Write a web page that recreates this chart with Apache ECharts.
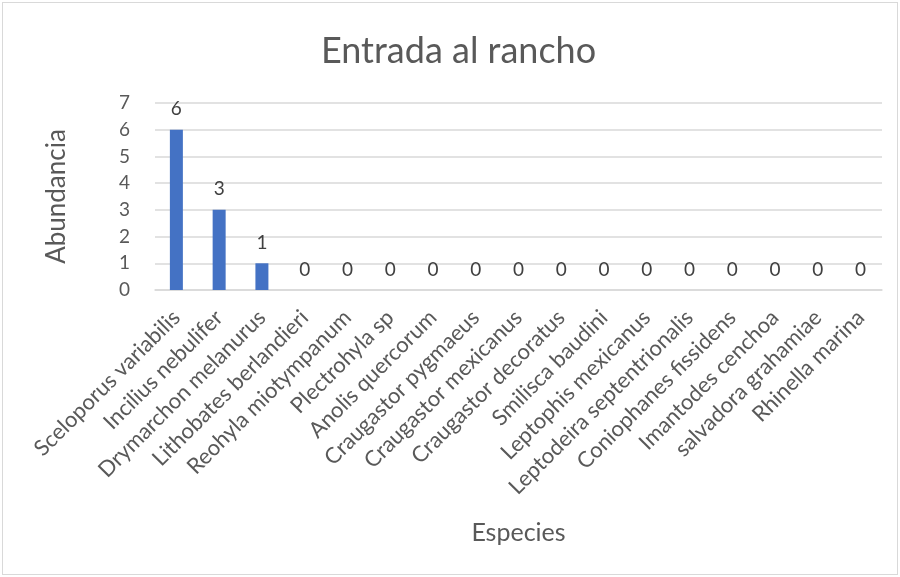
<!DOCTYPE html>
<html><head><meta charset="utf-8">
<script src="https://cdn.jsdelivr.net/npm/echarts@6/dist/echarts.min.js"></script>
<style>html,body{margin:0;padding:0;background:#fff}#wrap{position:absolute;left:2px;top:2px;width:894px;height:571px;border:1px solid #d9d9d9;}#c{width:900px;height:577px;position:absolute;left:0;top:0}</style>
</head><body><div id="wrap"></div><div id="c"></div>
<script>
var categories = ["Sceloporus variabilis","Incilius nebulifer","Drymarchon melanurus","Lithobates berlandieri","Reohyla miotympanum","Plectrohyla sp","Anolis quercorum","Craugastor pygmaeus","Craugastor mexicanus","Craugastor decoratus","Smilisca baudini","Leptophis mexicanus","Leptodeira septentrionalis","Coniophanes fissidens","Imantodes cenchoa","salvadora grahamiae","Rhinella marina"];
var values = [6,3,1,0,0,0,0,0,0,0,0,0,0,0,0,0,0];
var titleText = "Entrada al rancho";
var yName = "Abundancia";
var xName = "Especies";
var FONT = "Lato";
var chart = echarts.init(document.getElementById('c'));
chart.setOption({
  animation:false,
  title:{text:titleText,left:321,top:33,padding:0,textStyle:{fontFamily:FONT,fontSize:36,fontWeight:'normal',color:'#595959'}},
  grid:{left:155,right:18,top:103,bottom:287,containLabel:false},
  xAxis:{type:'category',data:categories,name:xName,nameLocation:'middle',nameGap:230,
    nameTextStyle:{fontFamily:FONT,fontSize:25,color:'#595959',padding:[0,0,0,0]},
    axisLine:{lineStyle:{color:'#d9d9d9',width:1.5}},axisTick:{show:false},
    axisLabel:{rotate:45,interval:0,fontFamily:FONT,fontSize:22,color:'#595959',margin:24}},
  yAxis:{type:'value',min:0,max:7,interval:1,name:yName,nameLocation:'middle',nameGap:85,
    nameTextStyle:{fontFamily:FONT,fontSize:26,color:'#595959'},
    axisLine:{show:false},axisTick:{show:false},
    axisLabel:{fontFamily:FONT,fontSize:19,color:'#595959',margin:25},
    splitLine:{lineStyle:{color:'#d9d9d9',width:1.5}}},
  series:[{type:'bar',data:values,barWidth:13,itemStyle:{color:'#4472c4'},
    label:{show:true,position:'top',distance:11,fontFamily:FONT,fontSize:19,color:'#404040'}}]
});
</script></body></html>
